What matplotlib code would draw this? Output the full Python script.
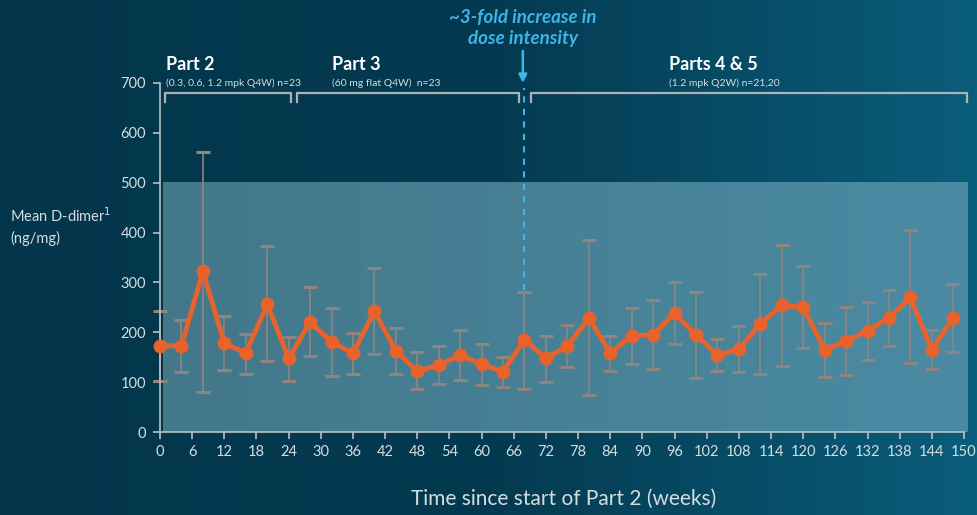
import numpy as np
import matplotlib.pyplot as plt
from matplotlib.colors import LinearSegmentedColormap

plt.rcParams['font.family'] = ['Lato', 'DejaVu Sans']

# mean D-dimer per visit, with the error bar ends
weeks = list(range(0, 149, 4))
mean_ddimer = [173, 173, 322, 178, 158, 256, 148, 220, 181, 158, 242, 163, 122,
               134, 154, 136, 121, 185, 148, 172, 229, 158, 193, 195, 238, 195,
               154, 166, 217, 254, 250, 165, 182, 203, 229, 270, 165, 229]
upper = [243, 225, 562, 233, 197, 374, 191, 290, 249, 199, 329, 209, 160,
         172, 205, 177, 151, 281, 193, 214, 385, 193, 249, 264, 301, 281,
         187, 212, 316, 375, 333, 219, 250, 260, 285, 405, 204, 297]
lower = [102, 121, 80, 124, 117, 142, 103, 152, 113, 117, 156, 117, 86,
         96, 104, 94, 91, 87, 101, 131, 74, 123, 137, 126, 176, 108,
         122, 121, 117, 133, 168, 111, 114, 144, 172, 138, 126, 160]

xticks = list(range(0, 151, 6))
yticks = list(range(0, 701, 100))
normal_limit = 500
dose_change_week = 68

parts = [("Part 2", "(0.3, 0.6, 1.2 mpk Q4W) n=23", 0.9, 24.4),
         ("Part 3", "(60 mg flat Q4W)  n=23", 25.6, 67.0),
         ("Parts 4 & 5", "(1.2 mpk Q2W) n=21,20", 69.2, 150.6)]
title_x = [1.1, 32.1, 95.0]

ORANGE = '#e8622c'
CYAN = '#3db5e8'
LIGHT = '#d6dde0'

fig = plt.figure(figsize=(9.78, 5.15), dpi=100)

# dark blue backdrop, lighter towards the right
bg = fig.add_axes([0, 0, 1, 1], zorder=-10)
bg_cmap = LinearSegmentedColormap.from_list('bg', ['#03364b', '#043a50', '#0a5d7b'])
bg.imshow(np.linspace(0, 1, 256)[None, :], cmap=bg_cmap, aspect='auto',
          extent=[0, 1, 0, 1])
bg.set_axis_off()

ax = fig.add_axes([160 / 978, 83 / 515, 808 / 978, 349 / 515])
ax.set_facecolor('none')

# shaded normal range
shade_cmap = LinearSegmentedColormap.from_list('shade', ['#43778a', '#4a8ba3'])
ax.imshow(np.linspace(0, 1, 256)[None, :], cmap=shade_cmap, aspect='auto',
          extent=[0.5, 150.6, 0, normal_limit], zorder=0)

mean = np.array(mean_ddimer)
yerr = [mean - np.array(lower), np.array(upper) - mean]
eb = ax.errorbar(weeks, mean, yerr=yerr, fmt='none', ecolor='#8f8580',
                 elinewidth=1.2, capsize=4.8, capthick=2.2, zorder=2,
                 clip_on=False)
for cap in eb[1]:
    cap.set_color('#dd6a35')
ax.plot(weeks, mean, color=ORANGE, lw=3.5, marker='o', ms=9,
        zorder=3, clip_on=False)

ax.set_xlim(0, 150.75)
ax.set_ylim(0, 700)
ax.set_xticks(xticks)
ax.set_yticks(yticks)
for side in ['top', 'right']:
    ax.spines[side].set_visible(False)
for side in ['left', 'bottom']:
    ax.spines[side].set_color('#b7c2c7')
    ax.spines[side].set_linewidth(1.2)
ax.spines['bottom'].set_bounds(0, 150)
ax.tick_params(colors='#b7c2c7', labelcolor=LIGHT, labelsize=10.5, length=5,
               width=1.2)
ax.tick_params(axis='y', pad=5)
ax.tick_params(axis='x', pad=4)

ax.set_xlabel('Time since start of Part 2 (weeks)', color=LIGHT,
              fontsize=15, labelpad=22)
fig.text(10 / 978, 1 - 226 / 515, 'Mean D-dimer$^{1}$\n(ng/mg)', color=LIGHT,
         fontsize=10.5, va='center', ha='left', linespacing=1.5)

# study part brackets and headings
for (name, sub, x0, x1), tx in zip(parts, title_x):
    ax.plot([x0, x0, x1, x1], [662, 680, 680, 662], color='#a9b3b8', lw=1.6,
            clip_on=False, solid_joinstyle='round')
    ax.text(tx, 737, name, color='white', fontsize=13, fontweight='bold',
            va='center', ha='left', clip_on=False)
    ax.text(tx, 700, sub, color=LIGHT, fontsize=7.5, va='center', ha='left',
            clip_on=False)

# dose intensity change
ax.plot([dose_change_week, dose_change_week], [285, 690], color=CYAN, lw=1.5,
        ls=(0, (3, 3)), clip_on=False, zorder=1)
ax.annotate('', xy=(dose_change_week - 0.3, 700), xytext=(dose_change_week - 0.3, 764),
            arrowprops=dict(arrowstyle='-|>', color=CYAN, lw=1.8,
                            mutation_scale=12, shrinkA=0, shrinkB=0),
            annotation_clip=False)
ax.text(dose_change_week - 0.3, 810, '~3-fold increase in\ndose intensity',
        color=CYAN, fontsize=13.5, fontweight='bold', fontstyle='italic',
        ha='center', va='center', linespacing=1.25, clip_on=False)

fig.savefig('out.png', dpi=100)
